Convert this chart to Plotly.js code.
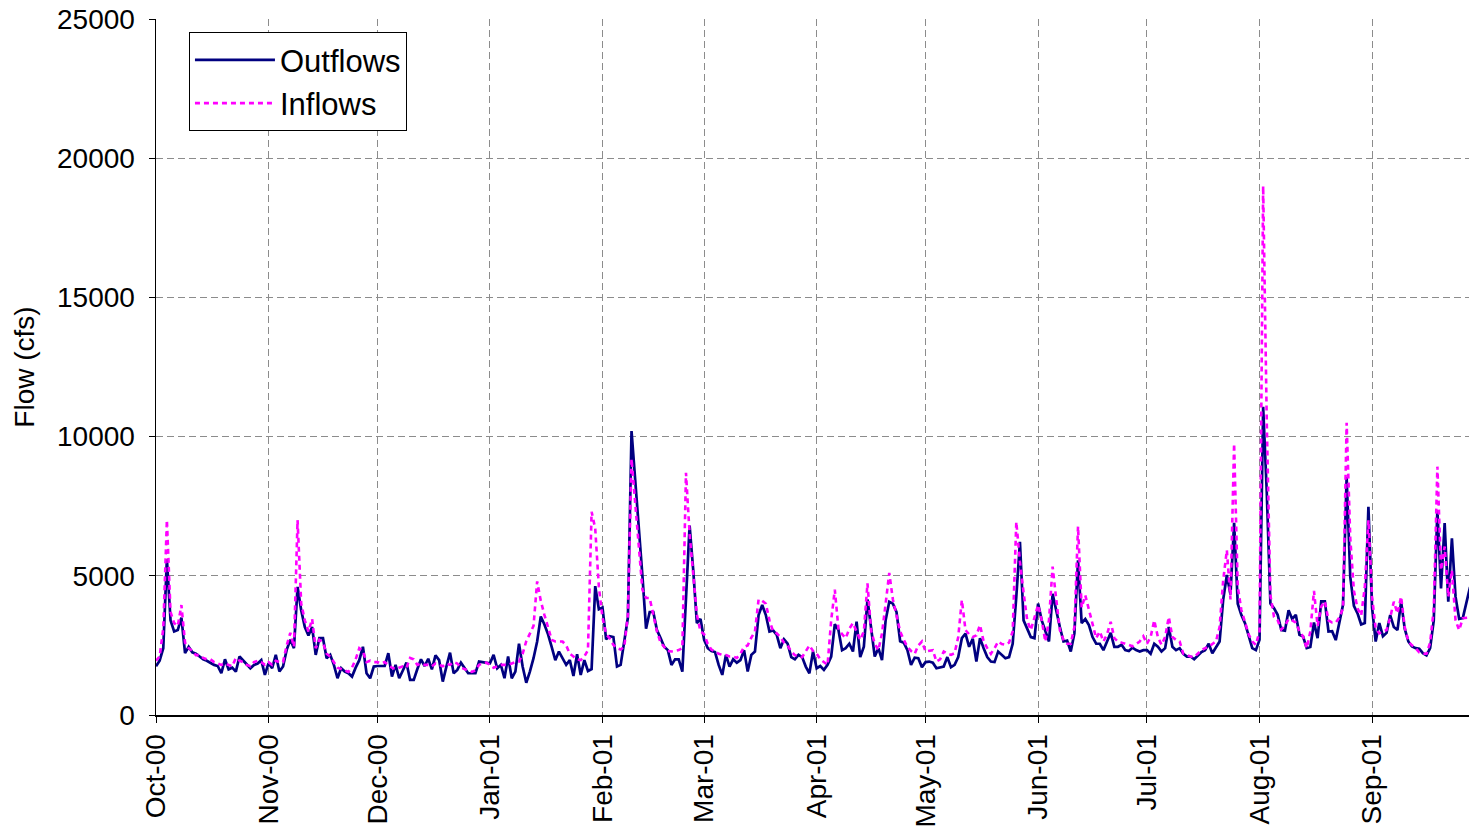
<!DOCTYPE html>
<html>
<head>
<meta charset="utf-8">
<script src="https://cdn.plot.ly/plotly-3.0.1.min.js"></script>
<style>
  html, body { margin: 0; padding: 0; background: #fff; }
  #chart { width: 1469px; height: 831px; }
</style>
</head>
<body>
<div id="chart"></div>
<script>
// ---- Data (daily flows, cfs) ----
const startDate = '2000-10-01';
const monthLabels = ['Oct-00','Nov-00','Dec-00','Jan-01','Feb-01','Mar-01','Apr-01','May-01','Jun-01','Jul-01','Aug-01','Sep-01'];

const outOct = [1750,1950,2400,5600,3400,3000,3050,3500,2220,2450,2250,2200,2100,2000,1950,1860,1800,1760,1500,2000,1640,1700,1560,2100,1950,1800,1680,1800,1850,1970,1440];
const outNov = [1860,1680,2160,1560,1740,2340,2700,2400,4600,3760,3160,2860,3160,2160,2760,2760,2040,2160,1800,1320,1680,1560,1500,1380,1700,1970,2450,1500,1320,1740];
const outDec = [1760,1760,1760,2220,1380,1800,1320,1600,1880,1260,1260,1650,2000,1760,2020,1640,2140,1970,1200,1740,2240,1500,1620,1880,1700,1500,1500,1500,1920,1900,1880];
const outJan = [1860,2160,1680,1800,1320,2100,1320,1560,2560,1740,1160,1560,2040,2640,3540,3250,2900,2450,1970,2280,2050,1800,1970,1400,2180,1440,1970,1580,1650,4630,3800];
const outFeb = [3860,2720,2830,2800,1740,1800,2640,3500,10200,8500,6900,5000,3100,3700,3700,3050,2760,2450,2330,1800,2000,2000,1560,4300,6800,5200,3300,3450];
const outMar = [2700,2400,2300,2260,1800,1440,2160,1740,2000,1880,1970,2330,1560,2160,2280,3590,3950,3590,3000,3040,2880,2400,2720,2560,2080,2000,2160,2080,1740,1500,2280];
const outApr = [1680,1760,1620,1800,2100,3260,3050,2330,2400,2560,2280,3350,2080,2450,4150,3050,2100,2400,1970,3400,4070,4000,3700,2650,2600,2330,1800,2060,2040,1720];
const outMay = [1900,1920,1880,1680,1700,1740,2080,1720,1800,2080,2760,2920,2450,2740,1920,2760,2400,2080,1920,1900,2280,2160,2040,2080,2560,4250,6220,3400,3100,2800,2760];
const outJun = [4000,3400,3050,2640,4350,3700,3160,2640,2670,2280,2930,5560,3300,3450,3230,2800,2560,2560,2330,2640,2950,2450,2450,2520,2330,2300,2420,2330,2280,2330];
const outJul = [2330,2200,2560,2450,2280,2400,3160,2450,2330,2400,2200,2100,2100,2000,2150,2260,2330,2560,2220,2450,2640,4150,5030,4330,6900,4000,3590,3300,2800,2400,2330];
const outAug = [2700,11070,8000,4000,3830,3600,3050,3030,3760,3450,3600,2880,2820,2400,2440,3320,2760,4080,4080,3000,3010,2690,3320,3960,8550,4960,3920,3650,3250,3300,7480];
const outSep = [3860,2640,3300,2830,2950,3590,3160,3050,4070,3100,2640,2460,2400,2380,2220,2140,2400,3400,7360,4550,6890,4070,6350,4250,3450,3480,4000,4600];

const inOct = [1950,2100,3100,7000,3700,3300,3200,3950,2600,2400,2300,2150,2150,2050,2000,2000,1900,1850,1800,1850,1800,1750,2050,1950,1900,1800,1750,1900,1950,1900,1800];
const inNov = [1900,1800,1950,1900,1900,2500,2950,2450,7000,4000,3400,3000,3450,2400,2700,2600,2200,2100,1900,1700,1650,1600,1550,1700,2000,2400,2300,1900,1950,1900];
const inDec = [1900,1850,1900,1800,1700,1650,1700,1750,1700,2050,2000,1800,1850,1800,1800,1750,1850,1800,1750,1850,1800,1900,1850,1700,1650,1600,1550,1600,1800,1850,1880];
const inJan = [1800,1700,1750,1800,1800,1800,1850,1900,1920,2200,2650,2930,3200,4800,4100,3600,3100,2700,2640,2640,2640,2500,2200,2100,2000,1970,2100,2330,7300,6700,4600];
const inFeb = [3500,2900,2750,2520,2400,2350,2450,3600,9200,7700,6000,4500,4200,4200,3600,3000,2600,2450,2300,2280,2300,2330,2400,8700,6500,5000,3600,3000];
const inMar = [2900,2550,2350,2280,2200,2160,2150,2100,2100,2050,2200,2450,2500,2780,3000,4150,4100,4000,3400,3000,2930,2800,2600,2500,2280,2150,2100,2080,2300,2500,2300];
const inApr = [2200,2000,1900,1800,3400,4500,3100,2900,2760,3100,3300,3000,2700,3000,4730,3030,2560,2330,2930,4000,5100,4150,3560,3000,2700,2450,2300,2200,2500,2640];
const inMay = [2280,2300,2330,1920,2000,2280,2200,2160,2220,2800,4130,3050,2900,2800,2860,3230,2640,2400,2200,2400,2640,2550,2520,2600,3000,6940,5500,4400,3400,3050,3520];
const inJun = [3950,3400,2640,3400,5330,4150,3050,2700,2560,2560,3160,6770,3860,4300,3800,3300,2760,3000,2640,2900,3350,2760,2640,2600,2550,2500,2470,2550,2640,2830];
const inJul = [2560,2800,3400,2800,2520,2800,3520,2800,2700,2640,2200,2150,2100,2080,2200,2330,2400,2450,2550,2640,3160,4850,5920,4150,9750,4610,3770,3350,2900,2640,2520];
const inAug = [3000,19000,10500,4300,3520,3400,3070,3200,3450,3400,3320,3000,2820,2400,3000,4460,3200,3900,4080,3400,3320,3320,3500,3830,10500,6350,4460,3830,3570,4590,7000];
const inSep = [4250,3100,2930,3000,3050,3500,4070,3650,4250,3160,2640,2500,2400,2250,2200,2200,2600,3800,8920,5200,6050,4250,5200,3400,3050,3480,3500,3500];

const outflows = [].concat(outOct,outNov,outDec,outJan,outFeb,outMar,outApr,outMay,outJun,outJul,outAug,outSep);
const inflows  = [].concat(inOct,inNov,inDec,inJan,inFeb,inMar,inApr,inMay,inJun,inJul,inAug,inSep);

// daily dates starting at startDate
const dates = outflows.map((_, i) => {
  const d = new Date(Date.UTC(2000, 9, 1 + i));
  return d.toISOString().slice(0, 10);
});

const FONT = 'Liberation Sans, Arial, Helvetica, sans-serif';

const traces = [
  {
    x: dates, y: outflows, name: 'Outflows', type: 'scatter', mode: 'lines',
    line: { color: '#000080', width: 2.7 }
  },
  {
    x: dates, y: inflows, name: 'Inflows', type: 'scatter', mode: 'lines',
    line: { color: '#FF00FF', width: 2.6, dash: '5px,4px' }
  }
];

const layout = {
  width: 1469, height: 831,
  margin: { l: 156, r: 0, t: 19, b: 116, pad: 0 },
  paper_bgcolor: '#ffffff', plot_bgcolor: '#ffffff',
  showlegend: true,
  legend: {
    x: 0.0251, y: 0.981, xanchor: 'left', yanchor: 'top',
    bgcolor: '#ffffff', bordercolor: '#000000', borderwidth: 1,
    font: { family: FONT, size: 31, color: '#000' },
    itemwidth: 80, tracegroupgap: 0
  },
  xaxis: {
    type: 'date',
    range: ['2000-10-01', '2001-09-27 17:00'],
    tick0: startDate, dtick: 'M1', tickformat: '%b-%y',
    tickangle: -90,
    ticks: 'outside', ticklen: 6, tickcolor: '#000', tickwidth: 1,
    showline: true, linecolor: '#000', linewidth: 2,
    showgrid: true, gridcolor: '#8c8c8c', gridwidth: 1, griddash: '7px,4px',
    zeroline: false,
    tickfont: { family: FONT, size: 28, color: '#000' },
    fixedrange: true
  },
  yaxis: {
    range: [0, 25000], dtick: 5000, tick0: 0, tickformat: 'd',
    ticks: 'outside', ticklen: 6, tickcolor: '#000', tickwidth: 1,
    ticklabelstandoff: 8,
    showline: true, linecolor: '#000', linewidth: 1.5,
    showgrid: true, gridcolor: '#8c8c8c', gridwidth: 1, griddash: '7px,4px',
    zeroline: false,
    tickfont: { family: FONT, size: 28, color: '#000' },
    title: { text: 'Flow (cfs)', font: { family: FONT, size: 28, color: '#000' }, standoff: 14 },
    fixedrange: true
  }
};

Plotly.newPlot('chart', traces, layout, { staticPlot: true, displayModeBar: false });
</script>
</body>
</html>
